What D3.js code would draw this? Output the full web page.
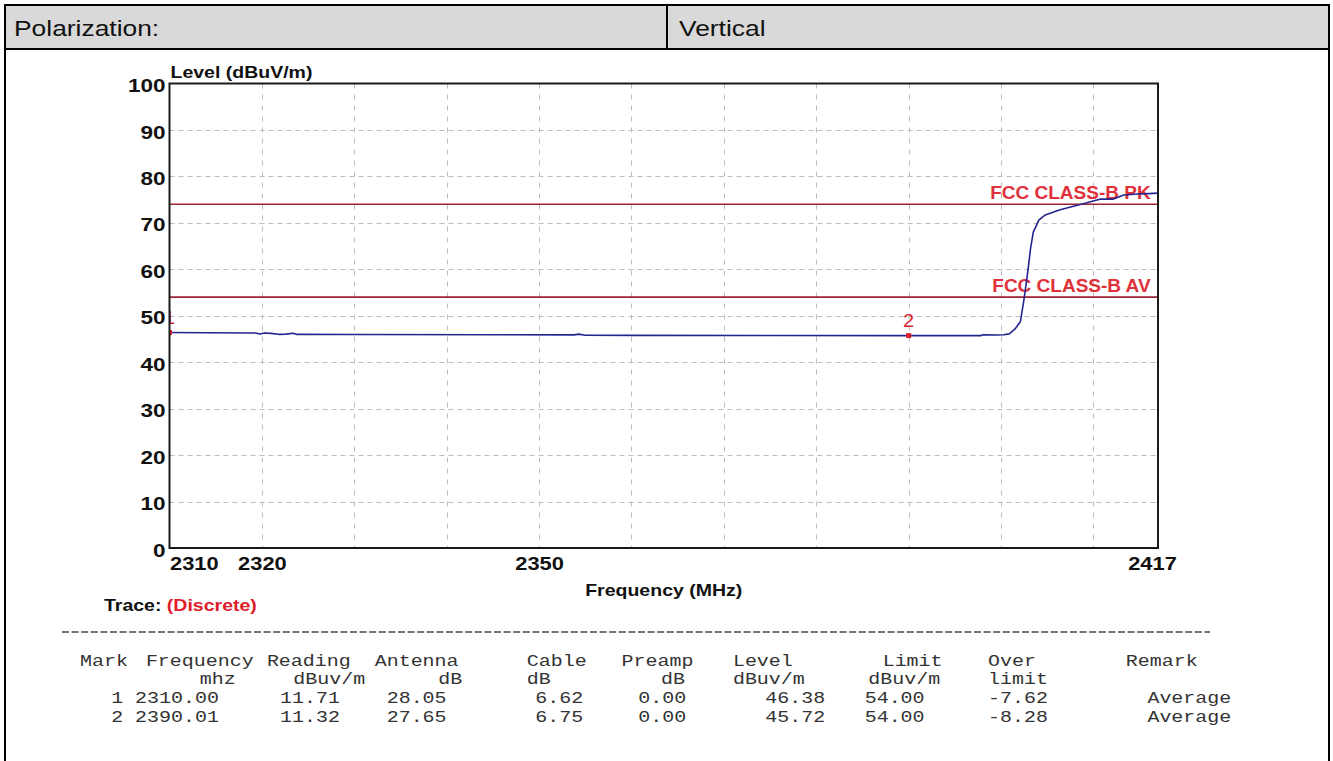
<!DOCTYPE html>
<html>
<head>
<meta charset="utf-8">
<script src="https://cdn.jsdelivr.net/npm/d3@7"></script>
<style>
  body { margin: 0; background: #fff; }
  svg { display: block; }
</style>
</head>
<body>
<svg id="chart" width="1333" height="761"></svg>
<script>
// ---- report values ----
const polarizationLabel = "Polarization:";
const polarizationValue = "Vertical";

const levelTicks = [0, 10, 20, 30, 40, 50, 60, 70, 80, 90, 100];
const freqTickLabels = [2310, 2320, 2350, 2417];
const freqGrid = [2320, 2330, 2340, 2350, 2360, 2370, 2380, 2390, 2400, 2410];

// measured trace (MHz, dBuV/m)
const traceFreq = [2310.0, 2314.0, 2319.3, 2319.8, 2320.3, 2321.0, 2321.8, 2322.6, 2323.4, 2323.8,
  2330.0, 2345.0, 2353.8, 2354.3, 2355.0, 2360.0, 2375.0, 2390.01, 2397.8, 2398.1,
  2399.5, 2400.3, 2400.9, 2401.5, 2402.1, 2402.5, 2402.9, 2403.2, 2403.5, 2404.1,
  2404.8, 2406.4, 2408.9, 2410.7, 2412.1, 2413.3, 2414.8, 2416.0, 2417.0];
const traceLevel = [46.38, 46.35, 46.30, 46.05, 46.30, 46.20, 46.00, 46.05, 46.25, 45.98,
  45.95, 45.90, 45.88, 46.05, 45.80, 45.78, 45.75, 45.72, 45.72, 45.90,
  45.85, 45.90, 46.10, 47.10, 48.70, 53.60, 59.40, 64.40, 68.00, 70.60,
  71.70, 72.80, 74.10, 75.10, 75.10, 76.00, 76.20, 76.30, 76.40];

const limitNames = ["FCC CLASS-B PK", "FCC CLASS-B AV"];
const limitLevels = [74, 54];

const markerIds = ["1", "2"];
const markerFreq = [2310.00, 2390.01];
const markerLevel = [46.38, 45.72];

const tableHead = ["Mark", "Frequency", "Reading", "Antenna", "Cable", "Preamp", "Level", "Limit", "Over", "Remark"];
const tableUnits = ["", "mhz", "dBuv/m", "dB", "dB", "dB", "dBuv/m", "dBuv/m", "limit", ""];
const tableRows = [
  ["1", "2310.00", "11.71", "28.05", "6.62", "0.00", "46.38", "54.00", "-7.62", "Average"],
  ["2", "2390.01", "11.32", "27.65", "6.75", "0.00", "45.72", "54.00", "-8.28", "Average"]
];

// ---- layout / style ----
const SANS = "'Liberation Sans', Arial, sans-serif";
const MONO = "'Liberation Mono', 'Courier New', monospace";
const SX = 1.22;                       // horizontal text stretch
const plot = { left: 169.5, right: 1158, top: 83.5, bottom: 548 };
// table columns, in character cells of the monospaced printout
const cellX0 = 80, cellW = 11.98;
const headCol = [0, 5.5, 15.6, 24.6, 37.3, 45.2, 54.5, 67, 75.8, 87.3];
const unitCol = [0, 10, 17.8, 29.9, 37.3, 48.5, 54.5, 65.8, 75.8, 0];
const rowCol = [2.6, 4.6, 16.7, 25.6, 38, 46.6, 57.2, 65.5, 75.8, 89.1];
const tableY = [666, 684, 703, 722];

const svg = d3.select("#chart");

function txt(parent, x, y, s, o = {}) {
  return parent.append("text")
    .attr("transform", `translate(${x},${y}) scale(${o.sx ?? SX},1)`)
    .attr("text-anchor", o.anchor || "start")
    .style("font-family", o.family || SANS)
    .style("font-size", (o.size || 16) + "px")
    .style("font-weight", o.weight || "normal")
    .attr("fill", o.fill || "#111")
    .text(s);
}

// ---- header band ----
svg.append("rect").attr("x", 4).attr("y", 5).attr("width", 1325).attr("height", 44)
  .attr("fill", "#d9d9d9");
const frame = svg.append("g").attr("stroke", "#000").attr("stroke-width", 2).attr("fill", "none");
frame.append("line").attr("x1", 4).attr("x2", 1330).attr("y1", 5).attr("y2", 5);
frame.append("line").attr("x1", 4).attr("x2", 1330).attr("y1", 49).attr("y2", 49);
frame.append("line").attr("x1", 5).attr("x2", 5).attr("y1", 4).attr("y2", 761);
frame.append("line").attr("x1", 1329).attr("x2", 1329).attr("y1", 4).attr("y2", 761);
frame.append("line").attr("x1", 667).attr("x2", 667).attr("y1", 5).attr("y2", 49);
txt(svg, 14, 36, polarizationLabel, { size: 22, sx: 1.2 });
txt(svg, 679, 36, polarizationValue, { size: 22, sx: 1.2 });

// ---- scales ----
const x = d3.scaleLinear().domain([2310, 2417]).range([plot.left, plot.right]);
const y = d3.scaleLinear().domain([0, 100]).range([plot.bottom, plot.top]);

svg.append("defs").append("clipPath").attr("id", "plotClip")
  .append("rect").attr("x", plot.left).attr("y", plot.top)
  .attr("width", plot.right - plot.left).attr("height", plot.bottom - plot.top);

// ---- grid ----
const grid = svg.append("g").attr("stroke", "#bdbdbd").attr("stroke-width", 1);
grid.selectAll(".h").data(levelTicks.filter(v => v > 0 && v < 100)).join("line")
  .attr("stroke-dasharray", "5,4")
  .attr("x1", plot.left).attr("x2", plot.right)
  .attr("y1", d => Math.round(y(d)) + 0.5).attr("y2", d => Math.round(y(d)) + 0.5);
grid.selectAll(".v").data(freqGrid).join("line")
  .attr("stroke-dasharray", "5,6")
  .attr("y1", plot.top).attr("y2", plot.bottom)
  .attr("x1", d => Math.round(x(d)) + 0.5).attr("x2", d => Math.round(x(d)) + 0.5);

// ---- limit lines ----
const limits = svg.append("g");
limits.selectAll("line").data(limitLevels).join("line")
  .attr("x1", plot.left).attr("x2", plot.right)
  .attr("y1", d => y(d)).attr("y2", d => y(d))
  .attr("stroke", "#9b2335").attr("stroke-width", 1.6);
limitNames.forEach((name, i) => {
  txt(limits, x(2416.2), y(limitLevels[i]) - 5.5, name,
    { anchor: "end", size: 19, weight: "bold", fill: "#e0313b", sx: 1.0 });
});

// ---- trace ----
const traceData = traceFreq.map((f, i) => [f, traceLevel[i]]);
svg.append("path").datum(traceData)
  .attr("clip-path", "url(#plotClip)")
  .attr("fill", "none").attr("stroke", "#25258f").attr("stroke-width", 1.6)
  .attr("stroke-linejoin", "round")
  .attr("d", d3.line().x(d => x(d[0])).y(d => y(d[1])));

// ---- markers ----
const mk = svg.append("g").attr("clip-path", "url(#plotClip)");
markerIds.forEach((id, i) => {
  const mx = x(markerFreq[i]), my = y(markerLevel[i]);
  mk.append("rect").attr("x", mx - 2.5).attr("y", my - 2.5).attr("width", 5).attr("height", 5)
    .attr("fill", "#e0202a");
  txt(mk, mx, my - 9, id, { anchor: "middle", size: 19, fill: "#d9252f", sx: 1.05 });
});

// ---- axes ----
const yAxis = svg.append("g").attr("transform", `translate(${plot.left},0)`)
  .call(d3.axisLeft(y).tickValues(levelTicks).tickSize(0).tickPadding(0));
yAxis.select(".domain").remove();
yAxis.selectAll("text")
  .attr("x", -4 / 1.25).attr("dy", "0.45em")
  .attr("transform", "scale(1.25,1)")
  .style("font-family", SANS).style("font-size", "18px").style("font-weight", "bold")
  .attr("fill", "#111");

const xAxis = svg.append("g").attr("transform", `translate(0,${plot.bottom})`)
  .call(d3.axisBottom(x).tickValues(freqTickLabels).tickSize(0).tickPadding(10).tickFormat(d3.format("d")));
xAxis.select(".domain").remove();
xAxis.selectAll(".tick text")
  .attr("transform", "scale(1.25,1)")
  .style("font-family", SANS).style("font-size", "17.5px").style("font-weight", "bold")
  .attr("fill", "#111")
  .attr("text-anchor", d => d === 2310 ? "start" : "middle")
  .attr("x", d => d === 2417 ? -6 / 1.25 : 0);

// plot frame
svg.append("rect").attr("x", plot.left).attr("y", plot.top)
  .attr("width", plot.right - plot.left).attr("height", plot.bottom - plot.top)
  .attr("fill", "none").attr("stroke", "#1a1a1a").attr("stroke-width", 2);

// axis titles
txt(svg, plot.left + 1, plot.top - 6, "Level (dBuV/m)", { size: 16, weight: "bold" });
txt(svg, (plot.left + plot.right) / 2, 596, "Frequency (MHz)", { anchor: "middle", size: 16, weight: "bold" });
const trace = svg.append("text")
  .attr("transform", `translate(104,611) scale(${SX},1)`)
  .style("font-family", SANS).style("font-size", "16px").style("font-weight", "bold");
trace.append("tspan").attr("fill", "#111").text("Trace: ");
trace.append("tspan").attr("fill", "#e0202a").text("(Discrete)");

// ---- marker table ----
svg.append("line").attr("x1", 62).attr("x2", 1210).attr("y1", 632).attr("y2", 632)
  .attr("stroke", "#444").attr("stroke-width", 1.4).attr("stroke-dasharray", "7,2.6");
const tbl = svg.append("g");
const mono = { family: MONO, size: 16.3, fill: "#333", sx: 1.225 };
const cx = c => cellX0 + c * cellW;
tableHead.forEach((h, i) => txt(tbl, cx(headCol[i]), tableY[0], h, mono));
tableUnits.forEach((u, i) => { if (u) txt(tbl, cx(unitCol[i]), tableY[1], u, mono); });
tableRows.forEach((row, r) => {
  row.forEach((v, i) => txt(tbl, cx(rowCol[i]), tableY[2 + r], v, mono));
});
</script>
</body>
</html>
